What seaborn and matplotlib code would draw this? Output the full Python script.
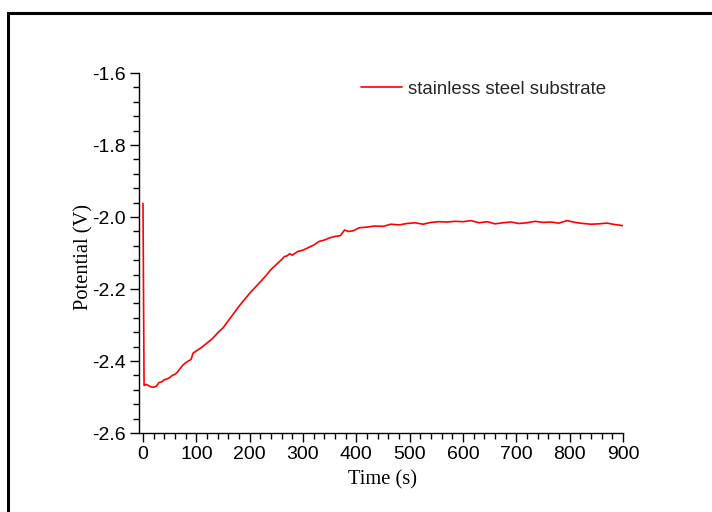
import matplotlib
matplotlib.use("Agg")
import matplotlib.pyplot as plt
from matplotlib.patches import Rectangle
from matplotlib.ticker import MultipleLocator, FormatStrFormatter
import pandas as pd
import seaborn as sns

# Open-circuit potential transient of the stainless steel substrate
time_s = [0, 2, 6, 10, 15, 20, 25, 30, 35, 40, 45, 50, 55, 60, 65, 70, 75, 80,
          85, 90, 94, 100, 110, 120, 130, 140, 150, 160, 170, 180, 190, 200,
          210, 220, 230, 240, 250, 260, 265, 270, 275, 280, 290, 300, 310, 320,
          330, 340, 350, 360, 370, 378, 385, 395, 405, 420, 435, 450, 465, 480,
          495, 510, 525, 540, 555, 570, 585, 600, 615, 630, 645, 660, 675, 690,
          705, 720, 735, 750, 765, 780, 795, 810, 825, 840, 855, 870, 885, 900]
potential_v = [-1.962, -2.468, -2.465, -2.468, -2.472, -2.473, -2.470, -2.460,
               -2.458, -2.452, -2.450, -2.446, -2.440, -2.437, -2.430, -2.420,
               -2.411, -2.405, -2.400, -2.396, -2.378, -2.372, -2.362, -2.350,
               -2.338, -2.322, -2.308, -2.288, -2.268, -2.248, -2.230, -2.212,
               -2.196, -2.180, -2.164, -2.146, -2.132, -2.118, -2.110, -2.108,
               -2.102, -2.106, -2.096, -2.092, -2.085, -2.078, -2.068, -2.064,
               -2.058, -2.054, -2.052, -2.036, -2.040, -2.038, -2.030, -2.028,
               -2.025, -2.026, -2.020, -2.022, -2.018, -2.016, -2.020, -2.015,
               -2.013, -2.014, -2.012, -2.013, -2.010, -2.016, -2.013, -2.019,
               -2.016, -2.014, -2.018, -2.016, -2.012, -2.015, -2.014, -2.017,
               -2.010, -2.015, -2.018, -2.020, -2.019, -2.017, -2.021, -2.024]
series_label = "stainless steel substrate"

df = pd.DataFrame({"Time (s)": time_s, "Potential (V)": potential_v,
                   "sample": series_label})

sns.set_theme(style="ticks")
plt.rcParams["font.family"] = ["Liberation Sans", "DejaVu Sans"]

fig = plt.figure(figsize=(7.12, 5.12), dpi=100)
fig.patch.set_facecolor("white")

# outer frame around the figure
fig.patches.append(Rectangle((8 / 712, -0.1), 1.2, 1 - 13 / 512 + 0.1,
                             transform=fig.transFigure, fill=False,
                             edgecolor="black", linewidth=2.2, zorder=0))

ax = fig.add_axes([139 / 712, 1 - 433 / 512, (623 - 139) / 712, 360 / 512])
sns.lineplot(data=df, x="Time (s)", y="Potential (V)", hue="sample",
             palette=["#ff0000"], linewidth=1.2, ax=ax, legend=False,
             estimator=None, sort=False)

ax.set_xlim(-7.5, 900)
ax.set_ylim(-2.6, -1.6)
ax.xaxis.set_major_locator(MultipleLocator(100))
ax.xaxis.set_minor_locator(MultipleLocator(20))
ax.yaxis.set_major_locator(MultipleLocator(0.2))
ax.yaxis.set_minor_locator(MultipleLocator(0.04))
ax.yaxis.set_major_formatter(FormatStrFormatter("%.1f"))

for side in ("top", "right"):
    ax.spines[side].set_visible(False)
for side in ("left", "bottom"):
    ax.spines[side].set_linewidth(1.0)
    ax.spines[side].set_color("black")

ax.tick_params(which="major", direction="out", length=6.5, width=1.0,
               color="black", labelsize=14, labelcolor="black", pad=3)
ax.tick_params(which="minor", direction="out", length=4, width=1.0,
               color="black")

ax.set_xlabel("Time (s)", fontfamily="Liberation Serif", fontsize=14.8,
              color="black")
ax.set_ylabel("Potential (V)", fontfamily="Liberation Serif", fontsize=14.8,
              color="black")
ax.xaxis.set_label_coords(0.503, -0.103)
ax.yaxis.set_label_coords(-0.095, 0.49)

handle = plt.Line2D([], [], color="#ff0000", linewidth=1.2)
fig.legend([handle], [series_label], loc="center left",
           bbox_to_anchor=(344 / 712, 1 - 89 / 512), frameon=False,
           fontsize=13.4, handlelength=2.2, handletextpad=0.32)

fig.savefig("out.png", dpi=100, facecolor="white")
